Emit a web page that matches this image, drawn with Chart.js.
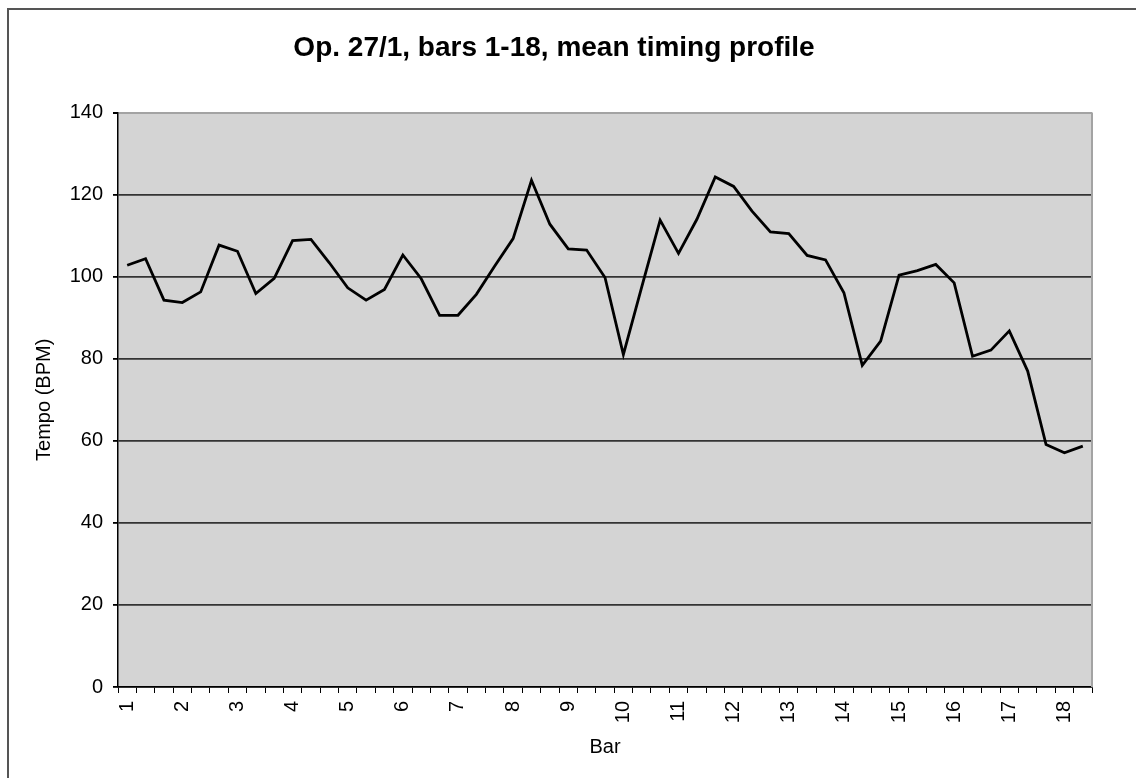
<!DOCTYPE html>
<html>
<head>
<meta charset="utf-8">
<script src="https://cdn.jsdelivr.net/npm/chart.js@4/dist/chart.umd.min.js"></script>
<style>
  html, body { margin: 0; padding: 0; background: #ffffff; }
  #wrap { width: 1136px; height: 778px; position: relative; }
</style>
</head>
<body>
<div id="wrap"><canvas id="c" width="1136" height="778"></canvas></div>
<script>
// ---- data ----
const chartTitle = 'Op. 27/1, bars 1-18, mean timing profile';
const barNumbers = ['1','2','3','4','5','6','7','8','9','10','11','12','13','14','15','16','17','18'];
const pointsPerBar = 3;
const tempo = [
  102.8, 104.4, 94.3, 93.7, 96.3, 107.7, 106.2, 95.9, 99.6, 108.8,
  109.1, 103.4, 97.3, 94.3, 96.9, 105.3, 99.5, 90.6, 90.6, 95.7,
  102.6, 109.3, 123.5, 112.8, 106.8, 106.5, 99.8, 81.0, 97.5, 113.8,
  105.7, 114.0, 124.3, 122.0, 116.0, 110.9, 110.5, 105.2, 104.1, 96.1,
  78.4, 84.3, 100.4, 101.5, 103.0, 98.5, 80.6, 82.1, 86.8, 77.0,
  59.1, 57.1, 58.7
];
const yTicks = [0, 20, 40, 60, 80, 100, 120, 140];

const categories = tempo.map((_, i) => (i % pointsPerBar === 0 ? barNumbers[i / pointsPerBar] : ''));

const FONT = '"Liberation Sans", Arial, Helvetica, sans-serif';

const decor = {
  id: 'decor',
  beforeDraw(chart) {
    const { ctx, chartArea: a } = chart;
    ctx.save();
    ctx.fillStyle = '#d4d4d4';
    ctx.fillRect(a.left, a.top, a.right - a.left, a.bottom - a.top);
    // outer frame
    ctx.strokeStyle = '#555555';
    ctx.lineWidth = 2;
    ctx.beginPath();
    ctx.moveTo(8, 800);
    ctx.lineTo(8, 9);
    ctx.lineTo(1200, 9);
    ctx.stroke();
    ctx.restore();
  },
  beforeDatasetsDraw(chart) {
    const { ctx, chartArea: a } = chart;
    ctx.save();
    ctx.strokeStyle = '#a3a3a3';
    ctx.lineWidth = 2;
    ctx.beginPath();
    ctx.moveTo(a.right, a.top);
    ctx.lineTo(a.right, a.bottom);
    ctx.stroke();
    ctx.restore();
  }
};

new Chart(document.getElementById('c'), {
  type: 'line',
  data: {
    labels: categories,
    datasets: [{
      data: tempo,
      borderColor: '#000000',
      borderWidth: 2.8,
      pointRadius: 0,
      tension: 0,
      fill: false
    }]
  },
  options: {
    responsive: false,
    animation: false,
    layout: { padding: { left: 16, right: 44, top: 0, bottom: 0 } },
    plugins: {
      legend: { display: false },
      tooltip: { enabled: false },
      title: {
        display: true,
        text: chartTitle,
        color: '#000000',
        font: { family: FONT, size: 28, weight: 'bold', lineHeight: 1.2 },
        padding: { top: 31, bottom: 48 }
      }
    },
    scales: {
      x: {
        type: 'category',
        offset: true,
        grid: { offset: true, drawOnChartArea: false, drawTicks: true, tickLength: 6, color: '#000000', lineWidth: 1 },
        border: { display: true, color: '#000000', width: 1.5 },
        ticks: {
          autoSkip: false, maxRotation: 90, minRotation: 90,
          padding: 8, color: '#000000',
          font: { family: FONT, size: 20 }
        },
        title: {
          display: true, text: 'Bar', color: '#000000',
          font: { family: FONT, size: 20, lineHeight: 1.2 },
          padding: { top: 0, bottom: 19 }
        },
        afterFit(s) { s.height = 91; }
      },
      y: {
        min: 0, max: 140,
        afterBuildTicks(s) { s.ticks = yTicks.map(v => ({ value: v })); },
        grid: {
          color: (c) => (c.tick && c.tick.value === 140 ? '#a3a3a3' : '#333333'),
          lineWidth: (c) => (c.tick && c.tick.value === 140 ? 2 : 1.8),
          tickColor: '#000000', tickLength: 5, drawTicks: true
        },
        border: { display: true, color: '#000000', width: 1.5 },
        ticks: { padding: 10, color: '#000000', font: { family: FONT, size: 20 } },
        title: {
          display: true, text: 'Tempo (BPM)', color: '#000000',
          font: { family: FONT, size: 20, lineHeight: 1.2 },
          padding: { top: 16, bottom: 0 }
        },
        afterFit(s) { s.width = 102; }
      }
    }
  },
  plugins: [decor]
});
</script>
</body>
</html>
